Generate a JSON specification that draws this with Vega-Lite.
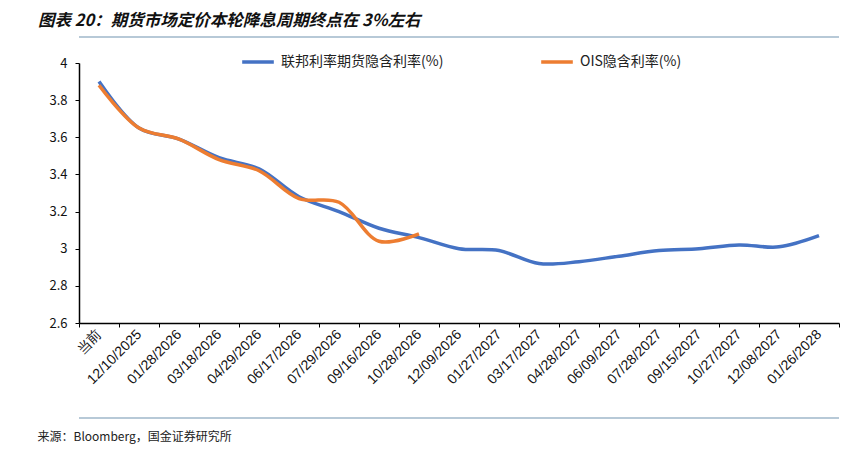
{
  "$schema": "https://vega.github.io/schema/vega-lite/v6.json",
  "width": 760,
  "height": 260,
  "autosize": {"type": "none"},
  "padding": {"left": 79, "top": 63, "right": 25, "bottom": 128},
  "background": "white",
  "title": {
    "text": "图表 20：期货市场定价本轮降息周期终点在 3%左右",
    "anchor": "start",
    "frame": "group",
    "dx": -41,
    "offset": 7,
    "font": "Noto Sans CJK SC",
    "fontSize": 16.5,
    "fontWeight": "bold",
    "fontStyle": "italic",
    "color": "#111111"
  },
  "config": {
    "view": {"stroke": null},
    "axis": {"grid": false, "domainColor": "#000000", "tickColor": "#000000", "labelColor": "#111111"},
    "axisY": {
      "values": [2.6, 2.8, 3, 3.2, 3.4, 3.6, 3.8, 4],
      "format": ".1~f",
      "title": null,
      "tickSize": 4,
      "labelOverlap": false,
      "labelBound": false,
      "labelFlush": false,
      "labelFont": "Noto Sans CJK SC",
      "labelFontSize": 13,
      "labelPadding": 8,
      "domainWidth": 1.5
    }
  },
  "datasets": {
    "series": [
      {"cat": "当前", "s": "联邦利率期货隐含利率(%)", "v": 3.90},
      {"cat": "12/10/2025", "s": "联邦利率期货隐含利率(%)", "v": 3.65},
      {"cat": "01/28/2026", "s": "联邦利率期货隐含利率(%)", "v": 3.59},
      {"cat": "03/18/2026", "s": "联邦利率期货隐含利率(%)", "v": 3.49},
      {"cat": "04/29/2026", "s": "联邦利率期货隐含利率(%)", "v": 3.43},
      {"cat": "06/17/2026", "s": "联邦利率期货隐含利率(%)", "v": 3.28},
      {"cat": "07/29/2026", "s": "联邦利率期货隐含利率(%)", "v": 3.20},
      {"cat": "09/16/2026", "s": "联邦利率期货隐含利率(%)", "v": 3.11},
      {"cat": "10/28/2026", "s": "联邦利率期货隐含利率(%)", "v": 3.06},
      {"cat": "12/09/2026", "s": "联邦利率期货隐含利率(%)", "v": 3.00},
      {"cat": "01/27/2027", "s": "联邦利率期货隐含利率(%)", "v": 2.99},
      {"cat": "03/17/2027", "s": "联邦利率期货隐含利率(%)", "v": 2.92},
      {"cat": "04/28/2027", "s": "联邦利率期货隐含利率(%)", "v": 2.93},
      {"cat": "06/09/2027", "s": "联邦利率期货隐含利率(%)", "v": 2.96},
      {"cat": "07/28/2027", "s": "联邦利率期货隐含利率(%)", "v": 2.99},
      {"cat": "09/15/2027", "s": "联邦利率期货隐含利率(%)", "v": 3.00},
      {"cat": "10/27/2027", "s": "联邦利率期货隐含利率(%)", "v": 3.02},
      {"cat": "12/08/2027", "s": "联邦利率期货隐含利率(%)", "v": 3.01},
      {"cat": "01/26/2028", "s": "联邦利率期货隐含利率(%)", "v": 3.07},
      {"cat": "当前", "s": "OIS隐含利率(%)", "v": 3.88},
      {"cat": "12/10/2025", "s": "OIS隐含利率(%)", "v": 3.65},
      {"cat": "01/28/2026", "s": "OIS隐含利率(%)", "v": 3.59},
      {"cat": "03/18/2026", "s": "OIS隐含利率(%)", "v": 3.48},
      {"cat": "04/29/2026", "s": "OIS隐含利率(%)", "v": 3.42},
      {"cat": "06/17/2026", "s": "OIS隐含利率(%)", "v": 3.27},
      {"cat": "07/29/2026", "s": "OIS隐含利率(%)", "v": 3.25},
      {"cat": "09/16/2026", "s": "OIS隐含利率(%)", "v": 3.04},
      {"cat": "10/28/2026", "s": "OIS隐含利率(%)", "v": 3.08}
    ],
    "seps": [{"y": 4.14}, {"y": 2.088}]
  },
  "layer": [
    {
      "data": {"name": "seps"},
      "mark": {"type": "rule", "clip": false, "color": "#9FB7CA", "strokeWidth": 1.5},
      "encoding": {
        "y": {"field": "y", "type": "quantitative", "scale": {"domain": [2.6, 4], "nice": false, "zero": false}}
      }
    },
    {
      "data": {"name": "series"},
      "mark": {"type": "line", "interpolate": "catmull-rom", "strokeWidth": 3.5, "clip": false},
      "encoding": {
        "x": {
          "field": "cat",
          "type": "ordinal",
          "sort": null,
          "bandPosition": 0.5,
          "scale": {"type": "band", "paddingInner": 0, "paddingOuter": 0},
          "axis": {
            "labelAngle": -45,
            "labelAlign": "right",
            "labelBaseline": "middle",
            "labelFont": "Liberation Sans",
            "labelFontSize": 14,
            "labelPadding": 5,
            "labelOverlap": false,
            "labelBound": false,
            "tickBand": "extent",
            "tickSize": 4,
            "domainWidth": 1.5,
            "title": "来源：Bloomberg，国金证券研究所",
            "titleAnchor": "start",
            "titleAlign": "left",
            "titleX": -42,
            "titleY": 113,
            "titleBaseline": "middle",
            "titleFont": "Noto Sans CJK SC",
            "titleFontSize": 12,
            "titleFontWeight": "normal",
            "titleColor": "#222222"
          }
        },
        "y": {
          "field": "v",
          "type": "quantitative",
          "scale": {"domain": [2.6, 4], "nice": false, "zero": false}
        },
        "color": {
          "field": "s",
          "type": "nominal",
          "scale": {"domain": ["联邦利率期货隐含利率(%)", "OIS隐含利率(%)"], "range": ["#4472C4", "#ED7D31"]},
          "legend": {
            "orient": "none",
            "legendX": 161,
            "legendY": -19,
            "direction": "horizontal",
            "title": null,
            "symbolType": "stroke",
            "symbolSize": 1000,
            "symbolStrokeWidth": 3.5,
            "labelFont": "Noto Sans CJK SC",
            "labelFontSize": 14,
            "labelLimit": 400,
            "labelColor": "#222222",
            "labelOffset": 5,
            "columnPadding": 90
          }
        }
      }
    }
  ]
}
